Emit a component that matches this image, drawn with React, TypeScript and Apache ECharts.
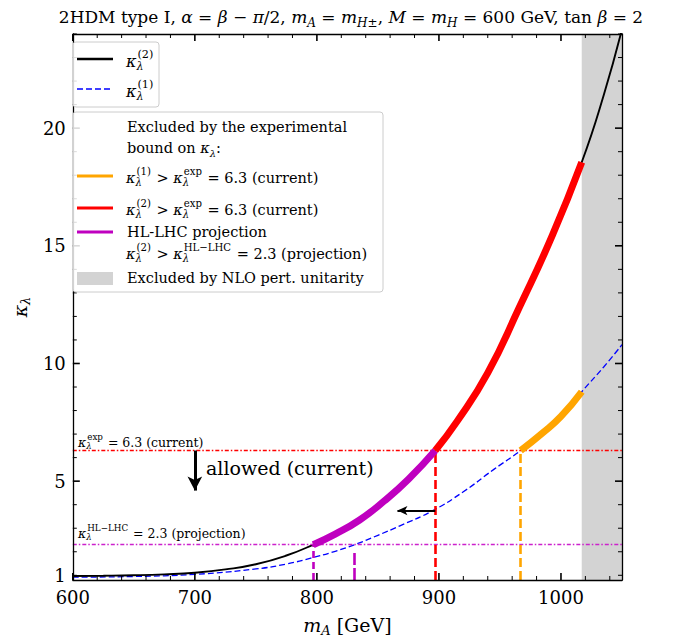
import React, { useEffect, useRef } from 'react';
import * as echarts from 'echarts';

// ---- data ----
const M2 = [600, 625, 650, 675, 700, 725, 750, 775, 797, 815, 835, 855, 875, 897, 915, 940, 966, 993, 1017, 1035, 1050];
const K2 = [0.97, 0.98, 1.0, 1.04, 1.11, 1.25, 1.47, 1.84, 2.3, 2.75, 3.35, 4.15, 5.08, 6.3, 7.55, 9.6, 12.4, 15.45, 18.55, 21.4, 24.2];
const M1 = [600, 650, 700, 750, 775, 795, 815, 831, 850, 868, 895, 920, 945, 967, 985, 1000, 1017, 1035, 1050];
const K1 = [0.92, 0.95, 1.04, 1.27, 1.48, 1.73, 2.02, 2.3, 2.7, 3.1, 3.75, 4.55, 5.5, 6.3, 7.05, 7.75, 8.8, 9.85, 10.8];

const K_EXP = 6.3;
const K_HL = 2.3;
const M2_HL = 797;
const M2_EXP = 897;
const M1_HL = 831;
const M1_HL_TOP = 2.06;
const M1_EXP = 967;
const M_UNIT = 1017;
const ARROW_DOWN_M = 700;
const ARROW_DOWN_END = 4.6;
const ARROW_LEFT_K = 3.75;
const ARROW_LEFT_END = 866;

const X_MIN = 600;
const X_MAX = 1050;
const Y_MIN = 0.8;
const Y_MAX = 24;
const X_LABELS = [600, 700, 800, 900, 1000];
const Y_LABELS = [1, 5, 10, 15, 20];
const Y_MAJOR = [5, 10, 15, 20];

const FONT = 'DejaVu Serif';

const pairs = (xs: number[], ys: number[]) => xs.map((x, i) => [x, ys[i]]);
const seg = (xs: number[], ys: number[], a: number, b: number) =>
  pairs(xs, ys).filter(([x]) => x >= a && x <= b);

let ctx: CanvasRenderingContext2D | null = null;
function tw(s: string, size: number, italic = false) {
  if (!ctx) ctx = document.createElement('canvas').getContext('2d');
  ctx!.font = `${italic ? 'italic ' : ''}${size}px "${FONT}"`;
  return ctx!.measureText(s).width;
}

type Part = string | { k: true; sup: string };
function mathLine(x: number, y: number, fs: number, parts: Part[], z = 101) {
  const els: any[] = [];
  let cx = x;
  const txt = (s: string, px: number, py: number, size: number, italic: boolean) =>
    els.push({
      type: 'text', x: px, y: py, z,
      style: {
        text: s, fontSize: size, fontFamily: FONT, fontStyle: italic ? 'italic' : 'normal',
        fill: '#000', verticalAlign: 'middle', align: 'left',
      },
    });
  for (const p of parts) {
    if (typeof p === 'string') {
      txt(p, cx, y, fs, false);
      cx += tw(p, fs);
    } else {
      txt('κ', cx, y, fs, true);
      const kw = tw('κ', fs, true);
      const ss = fs * 0.7;
      txt('λ', cx + kw, y + fs * 0.32, ss, true);
      txt(p.sup, cx + kw + 1, y - fs * 0.42, ss, false);
      cx += kw + Math.max(tw('λ', ss, true), tw(p.sup, ss) + 1) + 1;
    }
  }
  return els;
}

function range(a: number, b: number, step: number) {
  const r: number[] = [];
  for (let v = a; v <= b + 1e-9; v += step) r.push(v);
  return r;
}

export default function App() {
  const ref = useRef<HTMLDivElement>(null);
  useEffect(() => {
    const chart = echarts.init(ref.current!, null, { renderer: 'svg' });
    const xMinor = range(X_MIN, X_MAX, 20).filter((v) => v % 100 !== 0);
    const yMinor = range(1, Y_MAX, 1).filter((v) => !Y_MAJOR.includes(v));
    // tick data: [x, y, kind(0 = x tick, 1 = y tick), major]
    const tickData: number[][] = [
      ...X_LABELS.map((v) => [v, Y_MIN, 0, 1]),
      ...xMinor.map((v) => [v, Y_MIN, 0, 0]),
      ...Y_MAJOR.map((v) => [X_MIN, v, 1, 1]),
      ...yMinor.map((v) => [X_MIN, v, 1, 0]),
    ];

    const lineAxis = { show: true, onZero: false, lineStyle: { color: '#000', width: 1.3 } };
    const base = { type: 'value', z: 10, splitLine: { show: false }, axisTick: { show: false } };
    const nameStyle = {
      fontSize: 19, fontFamily: FONT, color: '#000', lineHeight: 24,
      rich: {
        i: { fontSize: 19, fontFamily: FONT, fontStyle: 'italic', lineHeight: 24 },
        s: { fontSize: 13, fontFamily: FONT, fontStyle: 'italic', lineHeight: 15, verticalAlign: 'bottom' },
      },
    };

    const xAxis = [
      {
        ...base, min: X_MIN, max: X_MAX, position: 'bottom', axisLine: lineAxis,
        axisLabel: { show: true, customValues: X_LABELS, formatter: (v: number) => String(v), margin: 8, fontSize: 18, fontFamily: FONT, color: '#000' },
        name: '{i|m}{s|A} [GeV]', nameLocation: 'middle', nameGap: 33, nameTextStyle: nameStyle,
      },
      { ...base, min: X_MIN, max: X_MAX, position: 'top', axisLine: lineAxis, axisLabel: { show: false } },
    ];
    const yAxis = [
      {
        ...base, min: Y_MIN, max: Y_MAX, position: 'left', axisLine: lineAxis,
        axisLabel: { show: true, customValues: Y_LABELS, formatter: (v: number) => String(v), margin: 7, fontSize: 18, fontFamily: FONT, color: '#000' },
        name: '{i|κ}{s|λ}', nameLocation: 'middle', nameGap: 34, nameRotate: 90, nameTextStyle: nameStyle,
      },
      { ...base, min: Y_MIN, max: Y_MAX, position: 'right', axisLine: lineAxis, axisLabel: { show: false } },
    ];

    const vline = (x: number, y0: number, y1: number, color: string, type: any, width: number) => [
      { coord: [x, y0], lineStyle: { color, type, width } },
      { coord: [x, y1] },
    ];

    const smooth = { smooth: 0.5 };
    const thick = (name: string, data: number[][], color: string) => ({
      name, type: 'line', data, ...smooth, showSymbol: false, z: 5, silent: true,
      lineStyle: { color, width: 7, cap: 'butt' },
    });

    const FS = 14.5;
    const g: any[] = [];
    g.push({
      type: 'text', x: 351, y: 17, z: 101,
      style: {
        text: '2HDM type I, {i|α} = {i|β} − {i|π}/2, {i|m}{s|A} = {i|m}{s|H±}, {i|M} = {i|m}{s|H} = 600 GeV, tan {i|β} = 2',
        fontSize: 17, fontFamily: FONT, fill: '#000', align: 'center', verticalAlign: 'middle', lineHeight: 24,
        rich: {
          i: { fontSize: 17, fontFamily: FONT, fontStyle: 'italic', lineHeight: 24 },
          s: { fontSize: 12, fontFamily: FONT, fontStyle: 'italic', lineHeight: 15, verticalAlign: 'bottom' },
        },
      },
    });
    // box 1
    g.push({ type: 'rect', z: 100, shape: { x: 73, y: 42, width: 86, height: 65, r: 3 }, style: { fill: 'rgba(255,255,255,0.85)', stroke: '#cccccc', lineWidth: 1 } });
    g.push({ type: 'line', z: 101, shape: { x1: 77, y1: 59, x2: 113, y2: 59 }, style: { stroke: '#000', lineWidth: 2.5 } });
    g.push(...mathLine(126, 61, 16, [{ k: true, sup: '(2)' }]));
    g.push({ type: 'line', z: 101, shape: { x1: 77, y1: 89, x2: 113, y2: 89 }, style: { stroke: '#0000ff', lineWidth: 1.3, lineDash: [6, 3] } });
    g.push(...mathLine(126, 91, 16, [{ k: true, sup: '(1)' }]));
    // box 2
    g.push({ type: 'rect', z: 100, shape: { x: 73, y: 112, width: 310, height: 180, r: 3 }, style: { fill: 'rgba(255,255,255,0.85)', stroke: '#cccccc', lineWidth: 1 } });
    g.push(...mathLine(127, 127, FS, ['Excluded by the experimental']));
    g.push(...mathLine(127, 148, FS, ['bound on ']));
    g.push({ type: 'text', z: 101, x: 127 + tw('bound on ', FS), y: 148, style: { text: '{i|κ}{s|λ}:', fontSize: FS, fontFamily: FONT, fill: '#000', verticalAlign: 'middle', lineHeight: 20, rich: { i: { fontSize: FS, fontFamily: FONT, fontStyle: 'italic', lineHeight: 20 }, s: { fontSize: 10, fontFamily: FONT, fontStyle: 'italic', lineHeight: 13, verticalAlign: 'bottom' } } } });
    g.push({ type: 'line', z: 101, shape: { x1: 77, y1: 176, x2: 113, y2: 176 }, style: { stroke: '#ffa500', lineWidth: 3 } });
    g.push(...mathLine(126, 178, FS, [{ k: true, sup: '(1)' }, ' > ', { k: true, sup: 'exp' }, ' = 6.3 (current)']));
    g.push({ type: 'line', z: 101, shape: { x1: 77, y1: 208, x2: 113, y2: 208 }, style: { stroke: '#ff0000', lineWidth: 3 } });
    g.push(...mathLine(126, 210, FS, [{ k: true, sup: '(2)' }, ' > ', { k: true, sup: 'exp' }, ' = 6.3 (current)']));
    g.push({ type: 'line', z: 101, shape: { x1: 77, y1: 232, x2: 113, y2: 232 }, style: { stroke: '#bf00bf', lineWidth: 3 } });
    g.push(...mathLine(127, 232, FS, ['HL-LHC projection']));
    g.push(...mathLine(126, 254, FS, [{ k: true, sup: '(2)' }, ' > ', { k: true, sup: 'HL−LHC' }, ' = 2.3 (projection)']));
    g.push({ type: 'rect', z: 101, shape: { x: 77, y: 272, width: 36, height: 13 }, style: { fill: '#d3d3d3' } });
    g.push(...mathLine(127, 278, FS, ['Excluded by NLO pert. unitarity']));
    // in-plot annotations
    g.push(...mathLine(78, 442, 12.5, [{ k: true, sup: 'exp' }, ' = 6.3 (current)']));
    g.push(...mathLine(78, 533, 12.5, [{ k: true, sup: 'HL−LHC' }, ' = 2.3 (projection)']));
    g.push(...mathLine(206, 468, 19, ['allowed (current)']));

    chart.setOption({
      animation: false,
      backgroundColor: '#fff',
      grid: { left: 65, right: 61, top: 34, bottom: 56, containLabel: false },
      xAxis,
      yAxis,
      graphic: g,
      series: [
        {
          name: 'unitarity', type: 'line', data: [], z: 1, silent: true,
          markArea: { silent: true, itemStyle: { color: '#d3d3d3', opacity: 1 }, data: [[{ xAxis: M_UNIT }, { xAxis: X_MAX }]] },
        },
        {
          name: 'refs', type: 'line', data: [], z: 2, silent: true,
          markLine: {
            silent: true, symbol: 'none', label: { show: false },
            data: [
              { yAxis: K_EXP, lineStyle: { color: '#ff0000', type: [4, 2, 1.5, 2], width: 1.4 } },
              { yAxis: K_HL, lineStyle: { color: '#cc22cc', type: [4, 2, 1.5, 2], width: 1.4 } },
              vline(M2_EXP, Y_MIN, K_EXP, '#ff0000', [9, 4], 2.6),
              vline(M1_EXP, Y_MIN, K_EXP, '#ffa500', [9, 4], 2.6),
              vline(M2_HL, Y_MIN, K_HL, '#bf00bf', [7, 4], 2.6),
              vline(M1_HL, Y_MIN, M1_HL_TOP, '#bf00bf', [12, 3], 2.6),
            ],
          },
        },
        {
          name: 'κ(1)', type: 'line', data: pairs(M1, K1), ...smooth, showSymbol: false, z: 3, silent: true,
          lineStyle: { color: '#0000ff', width: 1.3, type: [6, 3] },
        },
        {
          name: 'κ(2)', type: 'line', data: pairs(M2, K2), ...smooth, showSymbol: false, z: 4, silent: true,
          lineStyle: { color: '#000', width: 1.9 },
        },
        thick('HL', seg(M2, K2, M2_HL, M2_EXP), '#bf00bf'),
        thick('exp2', seg(M2, K2, M2_EXP, M_UNIT), '#ff0000'),
        thick('exp1', seg(M1, K1, M1_EXP, M_UNIT), '#ffa500'),
        {
          name: 'arrows', type: 'line', data: [], z: 6, silent: true,
          markLine: {
            silent: true, label: { show: false },
            lineStyle: { color: '#000', width: 2.5, type: 'solid' },
            data: [
              [
                { coord: [ARROW_DOWN_M, K_EXP], symbol: 'none', lineStyle: { color: '#000', width: 3, type: 'solid' } },
                { coord: [ARROW_DOWN_M, ARROW_DOWN_END], symbol: 'arrow', symbolSize: [11, 14] },
              ],
              [
                { coord: [M2_EXP, ARROW_LEFT_K], symbol: 'none', lineStyle: { color: '#000', width: 2, type: 'solid' } },
                { coord: [ARROW_LEFT_END, ARROW_LEFT_K], symbol: 'arrow', symbolSize: [7, 10] },
              ],
            ],
          },
        },
        {
          name: 'ticks', type: 'custom', data: tickData, z: 20, silent: true, clip: false,
          renderItem: (params: any, api: any) => {
            const x = api.value(0), y = api.value(1), kind = api.value(2), major = api.value(3);
            const len = major ? 7 : 4;
            const lw = major ? 1.6 : 1;
            const st = { stroke: '#000', lineWidth: lw };
            if (kind === 0) {
              const b = api.coord([x, Y_MIN]);
              const t = api.coord([x, Y_MAX]);
              return {
                type: 'group',
                children: [
                  { type: 'line', shape: { x1: b[0], y1: b[1], x2: b[0], y2: b[1] - len }, style: st },
                  { type: 'line', shape: { x1: t[0], y1: t[1], x2: t[0], y2: t[1] + len }, style: st },
                ],
              };
            }
            const l = api.coord([X_MIN, y]);
            const r = api.coord([X_MAX, y]);
            return {
              type: 'group',
              children: [
                { type: 'line', shape: { x1: l[0], y1: l[1], x2: l[0] + len, y2: l[1] }, style: st },
                { type: 'line', shape: { x1: r[0], y1: r[1], x2: r[0] - len, y2: r[1] }, style: st },
              ],
            };
          },
        },
      ],
    });
    return () => chart.dispose();
  }, []);
  return <div ref={ref} style={{ position: 'fixed', left: 0, top: 0, width: 683, height: 642 }} />;
}
